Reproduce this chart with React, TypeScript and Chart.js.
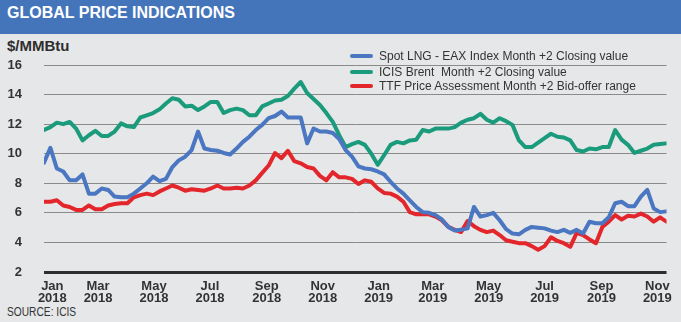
import React, { useEffect, useRef } from "react";
import { Chart, registerables } from "chart.js";

Chart.register(...registerables);

// Weekly readings, week 0 = first week of January 2018
const spotLng = [
  9.4, 10.4, 9.0, 8.8, 8.2, 8.2, 8.6, 7.3, 7.3, 7.65,
  7.55, 7.1, 7.05, 7.05, 7.3, 7.65, 8.0, 8.45, 8.15, 8.3,
  9.1, 9.55, 9.8, 10.25, 11.5, 10.35, 10.25, 10.2, 10.05, 9.95,
  10.35, 10.8, 11.15, 11.6, 11.95, 12.4, 12.55, 12.85, 12.45, 12.45,
  12.45, 10.7, 11.7, 11.5, 11.5, 11.4, 11.0, 10.25, 9.8, 9.15,
  9.0, 8.95, 8.8, 8.6, 8.1, 7.65, 7.3, 6.85, 6.4, 6.05,
  6.0, 5.85, 5.55, 5.05, 4.8, 4.85, 4.95, 6.4, 5.75, 5.85,
  6.0, 5.5, 4.9, 4.6, 4.55, 4.85, 5.05, 5.0, 4.95, 4.8,
  4.7, 4.85, 4.65, 4.85, 4.6, 5.4, 5.3, 5.3, 5.7, 6.65,
  6.75, 6.45, 6.45, 7.1, 7.55, 6.3, 6.05, 6.1,
];

const brent = [
  11.6, 11.8, 12.1, 12.0, 12.15, 11.7, 10.9, 11.25, 11.55, 11.2,
  11.2, 11.5, 12.05, 11.85, 11.8, 12.45, 12.6, 12.75, 13.0, 13.4,
  13.75, 13.65, 13.2, 13.25, 12.95, 13.2, 13.5, 13.5, 12.75, 12.95,
  13.05, 12.95, 12.6, 12.6, 13.2, 13.4, 13.6, 13.65, 13.9, 14.4,
  14.85, 14.1, 13.7, 13.3, 12.75, 12.15, 11.25, 10.45, 10.65, 10.8,
  10.6, 10.0, 9.25, 9.9, 10.6, 10.8, 10.7, 10.9, 10.95, 11.6,
  11.5, 11.7, 11.7, 11.7, 11.8, 12.1, 12.3, 12.4, 12.7, 12.3,
  12.1, 12.4, 12.2, 11.95, 10.9, 10.45, 10.45, 10.75, 11.05, 11.35,
  11.15, 11.1, 10.9, 10.25, 10.15, 10.35, 10.3, 10.45, 10.45, 11.6,
  10.95, 10.6, 10.05, 10.2, 10.35, 10.6, 10.65, 10.7,
];

const ttf = [
  6.75, 6.75, 6.85, 6.5, 6.4, 6.2, 6.2, 6.5, 6.25, 6.25,
  6.5, 6.6, 6.65, 6.65, 7.05, 7.2, 7.3, 7.2, 7.45, 7.65,
  7.85, 7.7, 7.5, 7.6, 7.55, 7.5, 7.65, 7.85, 7.65, 7.65,
  7.7, 7.65, 7.85, 8.2, 8.7, 9.2, 10.05, 9.7, 10.2, 9.5,
  9.35, 9.1, 9.0, 8.5, 8.2, 8.75, 8.4, 8.4, 8.3, 7.95,
  8.2, 8.1, 7.65, 7.35, 7.3, 7.1, 6.75, 6.05, 5.9, 5.9,
  5.9, 5.75, 5.5, 5.05, 4.85, 4.7, 5.45, 5.1, 4.85, 4.7,
  4.8, 4.5, 4.15, 4.05, 3.95, 3.95, 3.75, 3.5, 3.75, 4.35,
  4.1, 3.95, 3.7, 4.65, 4.5, 4.2, 3.95, 5.05, 5.4, 5.85,
  5.55, 5.8, 5.75, 5.95, 5.75, 5.4, 5.7, 5.4,
];

// Month tick positions in weeks from the start of the series
const monthTickWeeks = [1.3, 8.43, 17.14, 25.86, 34.71, 43.43, 52.14, 60.57, 69.29, 78.0, 86.86, 95.57];
const monthTickLabels = [
  ["Jan", "2018"], ["Mar", "2018"], ["May", "2018"], ["Jul", "2018"],
  ["Sep", "2018"], ["Nov", "2018"], ["Jan", "2019"], ["Mar", "2019"],
  ["May", "2019"], ["Jul", "2019"], ["Sep", "2019"], ["Nov", "2019"],
];
const yMin = 2;
const yMax = 16;
const yStep = 2;

const seriesNames = [
  "Spot LNG - EAX Index Month +2 Closing value",
  "ICIS Brent  Month +2 Closing value",
  "TTF Price Assessment Month +2 Bid-offer range",
];
const seriesColors = ["#4a76c2", "#1a9b7c", "#e3262b"];

const FONT = "'Liberation Sans', Arial, sans-serif";

export default function App() {
  const ref = useRef<HTMLCanvasElement>(null);

  useEffect(() => {
    const toPts = (arr: number[]) => arr.map((y, i) => ({ x: i, y }));
    const allSeries = [spotLng, brent, ttf];
    const chart = new Chart(ref.current as HTMLCanvasElement, {
      type: "line",
      data: {
        datasets: allSeries.map((s, i) => ({
          label: seriesNames[i],
          data: toPts(s),
          borderColor: seriesColors[i],
          backgroundColor: seriesColors[i],
          borderWidth: 4,
          pointRadius: 0,
          tension: 0,
          borderJoinStyle: "round" as const,
          borderCapStyle: "round" as const,
        })),
      },
      options: {
        responsive: false,
        animation: false,
        devicePixelRatio: 1,
        layout: { padding: { top: 65, right: 13, left: 0, bottom: 0 } },
        plugins: { legend: { display: false }, tooltip: { enabled: false } },
        scales: {
          x: {
            type: "linear",
            min: 0,
            max: spotLng.length - 1,
            grid: { display: false, drawTicks: false },
            border: { display: false },
            afterBuildTicks: (scale: any) => {
              scale.ticks = monthTickWeeks.map((v) => ({ value: v }));
            },
            afterFit: (scale: any) => {
              scale.height = 50;
            },
            ticks: {
              autoSkip: false,
              maxRotation: 0,
              padding: 9,
              color: "#333",
              font: { family: FONT, size: 13, weight: "bold", lineHeight: 0.9 },
              callback: (_v: any, i: number) => monthTickLabels[i],
            },
          },
          y: {
            min: yMin,
            max: yMax,
            grid: {
              drawTicks: false,
              color: (ctx: any) => (ctx.tick && ctx.tick.value === yMin ? "#2e2e2e" : "#8a8a8a"),
              lineWidth: (ctx: any) => (ctx.tick && ctx.tick.value === yMin ? 3 : 1),
            },
            border: { display: false },
            afterFit: (scale: any) => {
              scale.width = 44;
            },
            ticks: {
              stepSize: yStep,
              padding: 22,
              color: "#333",
              font: { family: FONT, size: 13, weight: "bold" },
            },
          },
        },
      },
    });
    return () => chart.destroy();
  }, []);

  const legendTops = [49, 64.5, 79];

  return (
    <div
      style={{
        position: "fixed",
        left: 0,
        top: 0,
        width: 681,
        height: 322,
        background: "#e6e7e8",
        fontFamily: FONT,
        overflow: "hidden",
      }}
    >
      <div style={{ position: "absolute", left: 0, top: 0, width: 681, height: 34, background: "#4475bb" }} />
      <div
        style={{
          position: "absolute",
          left: 7,
          top: 3,
          color: "#fff",
          fontWeight: 900,
          fontSize: 16,
          lineHeight: "20px",
        }}
      >
        GLOBAL PRICE INDICATIONS
      </div>
      <div
        style={{ position: "absolute", left: 7, top: 37, color: "#2e2e2e", fontWeight: 700, fontSize: 15, lineHeight: "18px" }}
      >
        $/MMBtu
      </div>
      <div
        style={{
          position: "absolute",
          left: 7,
          top: 305,
          color: "#333",
          fontSize: 12,
          lineHeight: "14px",
          whiteSpace: "pre",
          transform: "scaleX(0.85)",
          transformOrigin: "left center",
        }}
      >
        SOURCE: ICIS
      </div>
      <canvas
        ref={ref}
        width={681}
        height={322}
        style={{ position: "absolute", left: 0, top: 0, width: 681, height: 322 }}
      />
      {seriesNames.map((name, i) => (
        <div
          key={name}
          style={{ position: "absolute", left: 350, top: legendTops[i], height: 14, display: "flex", alignItems: "center" }}
        >
          <div style={{ width: 23, height: 4, borderRadius: 2, background: seriesColors[i], marginRight: 6 }} />
          <div style={{ fontSize: 12, color: "#333", whiteSpace: "pre", lineHeight: "14px" }}>{name}</div>
        </div>
      ))}
    </div>
  );
}
